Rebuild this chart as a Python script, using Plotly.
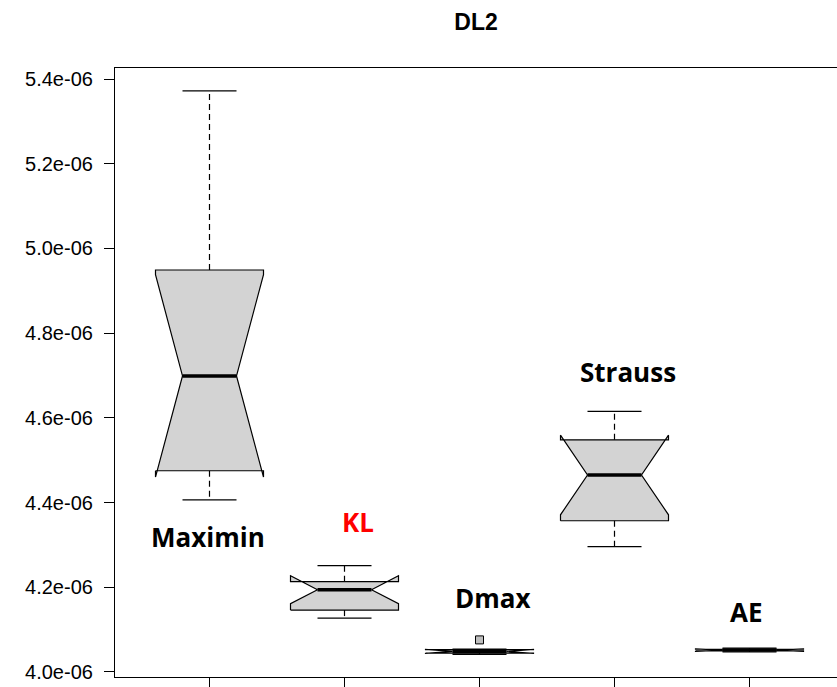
import plotly.graph_objects as go

# Summary statistics of the DL2 criterion for each design method
methods = ["Maximin", "KL", "Dmax", "Strauss", "AE"]
whisker_lo = [4.406e-06, 4.127e-06, 4.0415e-06, 4.296e-06, 4.0470e-06]
q1 = [4.475e-06, 4.146e-06, 4.0445e-06, 4.357e-06, 4.0495e-06]
median = [4.699e-06, 4.194e-06, 4.0484e-06, 4.465e-06, 4.0515e-06]
q3 = [4.949e-06, 4.213e-06, 4.0525e-06, 4.548e-06, 4.0535e-06]
whisker_hi = [5.372e-06, 4.251e-06, 4.0540e-06, 4.615e-06, 4.0560e-06]
notch_lo = [4.460e-06, 4.161e-06, 4.0437e-06, 4.371e-06, 4.0485e-06]
notch_hi = [4.938e-06, 4.227e-06, 4.0531e-06, 4.559e-06, 4.0545e-06]
outliers = {"Dmax": [4.0756e-06]}

y_ticks = [4.0e-06, 4.2e-06, 4.4e-06, 4.6e-06, 4.8e-06, 5.0e-06, 5.2e-06, 5.4e-06]
y_tick_text = ["4.0e-06", "4.2e-06", "4.4e-06", "4.6e-06", "4.8e-06", "5.0e-06", "5.2e-06", "5.4e-06"]

# Method name labels placed beside each box
label_x = [0.99, 2.10, 3.10, 4.10, 4.98]
label_y = [4.319e-06, 4.354e-06, 4.175e-06, 4.708e-06, 4.142e-06]
label_color = ["black", "red", "black", "black", "black"]

half_w = 0.4      # half box width
inner_w = 0.2     # notch waist / median / staple half width
lw = 1.2

fig = go.Figure()

for i, name in enumerate(methods):
    x = i + 1
    # notched box outline (same vertex order as R's bxp)
    xs = [x - half_w, x - half_w, x - inner_w, x - half_w, x - half_w,
          x + half_w, x + half_w, x + inner_w, x + half_w, x + half_w, x - half_w]
    ys = [q1[i], notch_lo[i], median[i], notch_hi[i], q3[i],
          q3[i], notch_hi[i], median[i], notch_lo[i], q1[i], q1[i]]
    fig.add_trace(go.Scatter(x=xs, y=ys, mode="lines", fill="toself",
                             fillcolor="#D3D3D3", line=dict(color="black", width=lw),
                             hoverinfo="skip", showlegend=False))
    # dashed whiskers
    for a, b in [(q3[i], whisker_hi[i]), (q1[i], whisker_lo[i])]:
        fig.add_trace(go.Scatter(x=[x, x], y=[a, b], mode="lines",
                                 line=dict(color="black", width=lw, dash="6px,4px"),
                                 hoverinfo="skip", showlegend=False))
    # staples
    for v in [whisker_hi[i], whisker_lo[i]]:
        fig.add_trace(go.Scatter(x=[x - inner_w, x + inner_w], y=[v, v], mode="lines",
                                 line=dict(color="black", width=lw),
                                 hoverinfo="skip", showlegend=False))
    # median
    fig.add_trace(go.Scatter(x=[x - inner_w, x + inner_w], y=[median[i], median[i]],
                             mode="lines", line=dict(color="black", width=3.5),
                             hoverinfo="skip", showlegend=False))
    # outliers
    if name in outliers:
        pts = outliers[name]
        fig.add_trace(go.Scatter(x=[x] * len(pts), y=pts, mode="markers",
                                 marker=dict(symbol="square", size=8, color="#BEBEBE",
                                             line=dict(color="black", width=1)),
                                 hoverinfo="skip", showlegend=False))

for i, name in enumerate(methods):
    fig.add_annotation(x=label_x[i], y=label_y[i], text="<b>%s</b>" % name,
                       showarrow=False, xanchor="center", yanchor="middle",
                       font=dict(family="Open Sans", size=26, color=label_color[i]))

fig.update_layout(
    width=837, height=687,
    margin=dict(l=115, r=0, t=68, b=10),
    paper_bgcolor="white", plot_bgcolor="white",
    title=dict(text="<b>DL2</b>", x=0.5, xref="paper", xanchor="center",
               y=1 - 22 / 687, yref="container", yanchor="middle",
               font=dict(family="Liberation Sans", size=23, color="black")),
    xaxis=dict(range=[0.3, 0.3 + 722 / 135], tickvals=[1, 2, 3, 4, 5],
               ticktext=["", "", "", "", ""], ticks="outside", ticklen=10,
               tickcolor="black", tickwidth=lw, showline=True, linecolor="black",
               linewidth=lw, mirror=True, showgrid=False, zeroline=False),
    yaxis=dict(range=[3.988e-06, 5.426e-06], tickvals=y_ticks, ticktext=y_tick_text,
               ticks="outside", ticklen=10, tickcolor="black", tickwidth=lw,
               ticklabelstandoff=7,
               showline=True, linecolor="black", linewidth=lw,
               showgrid=False, zeroline=False,
               tickfont=dict(family="Liberation Sans", size=20, color="black")),
)

fig.write_html("out.html")
